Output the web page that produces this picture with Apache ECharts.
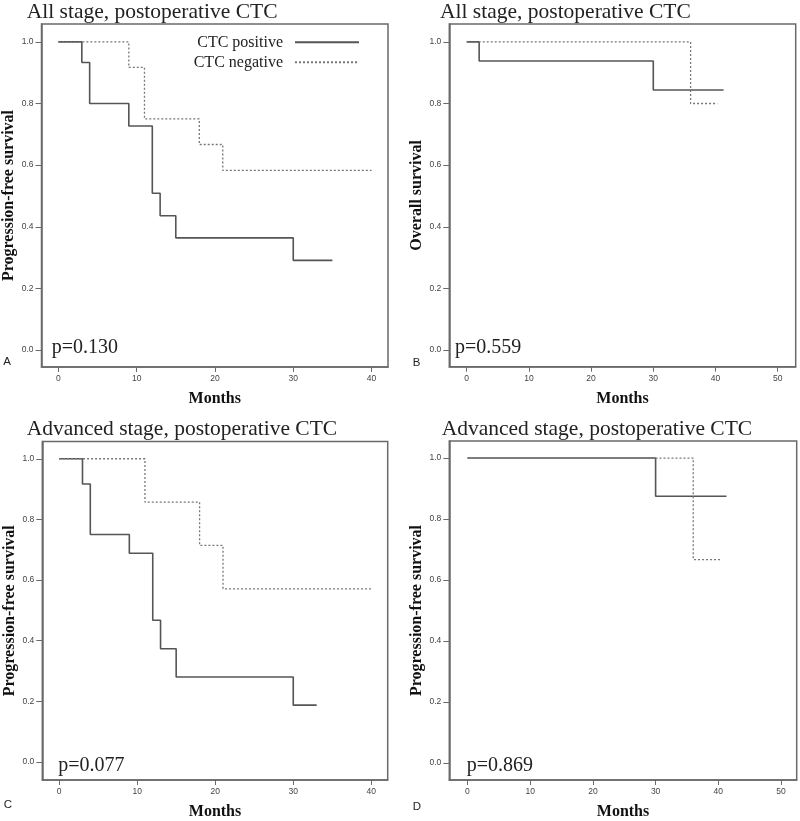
<!DOCTYPE html>
<html><head><meta charset="utf-8">
<script src="https://cdn.jsdelivr.net/npm/echarts@6/dist/echarts.min.js"></script>
<style>html,body{margin:0;padding:0;background:#fff}#c{width:800px;height:821px}</style>
</head><body><div id="c"></div><script>
// ---- text ----
const panelTitles = ['All stage, postoperative CTC','All stage, postoperative CTC','Advanced stage, postoperative CTC','Advanced stage, postoperative CTC'];
const yAxisNames = ['Progression-free survival','Overall survival','Progression-free survival','Progression-free survival'];
const xAxisName = 'Months';
const pValues = ['p=0.130','p=0.559','p=0.077','p=0.869'];
const panelLetters = ['A','B','C','D'];
const seriesNames = ['CTC positive','CTC negative'];
// ---- ticks ----
const xTicksShort = [0,10,20,30,40];
const xTicksLong = [0,10,20,30,40,50];
const yTicks = [0,0.2,0.4,0.6,0.8,1.0];
// ---- data (months, survival) ----
const aPosTime = [0,3,4,9,12,13,15,30,35];
const aPosSurv = [1,0.933,0.8,0.727,0.509,0.436,0.364,0.291,0.291];
const aNegTime = [0,9,11,18,21,40];
const aNegSurv = [1,0.917,0.75,0.667,0.583,0.583];
const bPosTime = [0,2,30,41.3];
const bPosSurv = [1,0.938,0.844,0.844];
const bNegTime = [0,36,40.3];
const bNegSurv = [1,0.8,0.8];
const cPosTime = [0,3,4,9,12,13,15,30,33];
const cPosSurv = [1,0.917,0.75,0.688,0.467,0.373,0.28,0.187,0.187];
const cNegTime = [0,11,18,21,40];
const cNegSurv = [1,0.857,0.714,0.571,0.571];
const dPosTime = [0,30,41.3];
const dPosSurv = [1,0.875,0.875];
const dNegTime = [0,36,40.3];
const dNegSurv = [1,0.667,0.667];

const panels = [
  {pos:[aPosTime,aPosSurv], neg:[aNegTime,aNegSurv], xt:xTicksShort},
  {pos:[bPosTime,bPosSurv], neg:[bNegTime,bNegSurv], xt:xTicksLong},
  {pos:[cPosTime,cPosSurv], neg:[cNegTime,cNegSurv], xt:xTicksShort},
  {pos:[dPosTime,dPosSurv], neg:[dNegTime,dNegSurv], xt:xTicksLong}
];
// layout
const grids = [
  {left:41.3, top:24, width:346.7, height:343},
  {left:449.3, top:24, width:346.4, height:342.7},
  {left:42.3, top:441.5, width:345.4, height:341.8},
  {left:449.3, top:441, width:347.4, height:343}
];
const xRanges = [[-2.15,42.1],[-2.8,52.9],[-2.15,42.1],[-2.9,52.5]];
const yRanges = [[-0.055,1.058],[-0.054,1.058],[-0.06,1.057],[-0.056,1.056]];
const titlePos = [[26.7,1],[440,1],[26.7,418.4],[441.7,418.4]];
const pPos = [[51.7,347.3],[455,347.3],[58.3,765.6],[466.7,765.6]];
const letterPos = [[7.2,362],[416.7,363],[8,805],[417,806.5]];

const serif = "'Liberation Serif','Times New Roman',serif";
const sans = "'Liberation Sans',Arial,sans-serif";
const frameColor = '#6a6a6a';

const zip = (t,s) => t.map((v,i)=>[v,s[i]]);

const option = {
  animation:false,
  backgroundColor:'#fff',
  title: panelTitles.map((t,i)=>({text:t, left:titlePos[i][0], top:titlePos[i][1], padding:0,
     textStyle:{fontFamily:serif,fontSize:21.5,fontWeight:'normal',color:'#222'}})),
  legend:{
    data:seriesNames, orient:'vertical', align:'right', right:440, top:34.3, padding:0,
    itemWidth:64, itemHeight:14, itemGap:4,
    itemStyle:{color:'transparent',borderColor:'transparent',borderWidth:0,opacity:0},
    textStyle:{fontFamily:serif,fontSize:16,color:'#222',lineHeight:16, padding:[0,7,0,0]}
  },
  grid: grids.map(g=>Object.assign({show:true,borderColor:frameColor,borderWidth:1.5,backgroundColor:'#fff'},g)),
  xAxis: panels.map((p,i)=>({
    type:'value', gridIndex:i, min:xRanges[i][0], max:xRanges[i][1],
    name:xAxisName, nameLocation:'middle', nameGap:24,
    nameTextStyle:{fontFamily:serif,fontSize:16,fontWeight:'bold',color:'#111'},
    axisLine:{show:true,onZero:false,lineStyle:{color:frameColor,width:1.5}},
    axisTick:{show:true,length:5,customValues:p.xt,lineStyle:{color:frameColor,width:1}},
    axisLabel:{customValues:p.xt,margin:7,fontFamily:sans,fontSize:8.5,color:'#444'},
    splitLine:{show:false}
  })),
  yAxis: panels.map((p,i)=>({
    type:'value', gridIndex:i, min:yRanges[i][0], max:yRanges[i][1],
    name:yAxisNames[i], nameLocation:'middle', nameGap:24.5,
    nameTextStyle:{fontFamily:serif,fontSize:16,fontWeight:'bold',color:'#111'},
    axisLine:{show:true,onZero:false,lineStyle:{color:frameColor,width:1.5}},
    axisTick:{show:true,length:6,customValues:yTicks,lineStyle:{color:frameColor,width:1}},
    axisLabel:{customValues:yTicks,margin:8,fontFamily:sans,fontSize:8.5,color:'#444',
      formatter:v=>v.toFixed(1)},
    splitLine:{show:false}
  })),
  series: [],
  graphic: []
};
panels.forEach((p,i)=>{
  option.series.push({name:seriesNames[0],type:'line',step:'end',symbol:'none',xAxisIndex:i,yAxisIndex:i,
    data:zip(p.pos[0],p.pos[1]),lineStyle:{color:'#555',width:1.6,type:'solid'},itemStyle:{color:'#555'}});
  option.series.push({name:seriesNames[1],type:'line',step:'end',symbol:'none',xAxisIndex:i,yAxisIndex:i,
    data:zip(p.neg[0],p.neg[1]),lineStyle:{color:'#777',width:1.3,type:[2,2]},itemStyle:{color:'#777'}});
  option.graphic.push({type:'text',x:pPos[i][0],y:pPos[i][1],
    style:{text:pValues[i],font:'20px '+serif,fill:'#222',verticalAlign:'middle',align:'left'}});
  option.graphic.push({type:'text',x:letterPos[i][0],y:letterPos[i][1],
    style:{text:panelLetters[i],font:'11.5px '+sans,fill:'#222',verticalAlign:'middle',align:'center'}});
});
const chart = echarts.init(document.getElementById('c'),null,{renderer:'canvas'});
chart.setOption(option);
</script></body></html>
